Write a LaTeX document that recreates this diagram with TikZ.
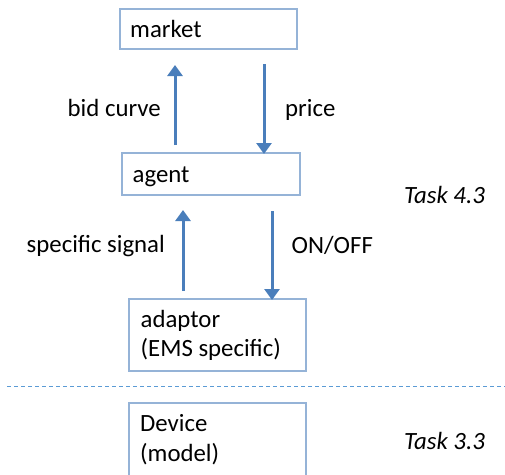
\documentclass[tikz,border=0pt]{standalone}
\usepackage{fontspec}
\setmainfont{Carlito}
\usetikzlibrary{arrows.meta}
\definecolor{boxline}{HTML}{95B3D7}
\definecolor{arrowblue}{HTML}{4A7EBB}
\definecolor{sepline}{HTML}{5B9BD5}
\begin{document}
\begin{tikzpicture}[x=1pt,y=-1pt,
  every node/.style={font=\fontsize{24.8}{29}\selectfont, inner sep=0pt},
  lbl/.style={anchor=base west},
  taskl/.style={anchor=base west, font=\fontsize{24.8}{29}\selectfont\itshape},
  blockbox/.style={draw=boxline, line width=1.3pt},
  flow/.style={draw=arrowblue, line width=3pt, -{Triangle[width=15pt,length=11pt]}, shorten >=-1pt}]
\useasboundingbox (0,0) rectangle (505,474);
\begin{scope}
\clip (0,0) rectangle (505,474);
% boxes
\draw[blockbox] (120,9) rectangle (297,49);
\draw[blockbox] (122,153) rectangle (300,195);
\draw[blockbox] (129,299) rectangle (306,371);
\draw[blockbox] (129,403) rectangle (306,490);
% separator between the two task levels
\draw[sepline, line width=0.9pt, dash pattern=on 4pt off 3pt] (7,386) -- (505,386);
\end{scope}
% box labels
\node[lbl] (market) at (130,37) {market};
\node[lbl] (agent) at (132.5,182) {agent};
\node[lbl] (adaptor) at (140.5,327) {adaptor};
\node[lbl] (ems) at (140.5,356) {(EMS specific)};
\node[lbl] (device) at (140,431) {Device};
\node[lbl] (model) at (140,461) {(model)};
% anchor points of the arrows
\coordinate (a1s) at (175,145); \coordinate (a1e) at (175,66);
\coordinate (a2s) at (264,64);  \coordinate (a2e) at (264,153);
\coordinate (a3s) at (183,291); \coordinate (a3e) at (183,211);
\coordinate (a4s) at (272,211); \coordinate (a4e) at (272,299);
\draw[flow] (a1s) -- (a1e);
\draw[flow] (a2s) -- (a2e);
\draw[flow] (a3s) -- (a3e);
\draw[flow] (a4s) -- (a4e);
% arrow labels
\node[lbl] (bid) at (67.5,116) {bid curve};
\node[lbl] (price) at (285,116) {price};
\node[lbl] (signal) at (26.5,252) {specific signal};
\node[lbl] (onoff) at (291.5,253) {ON/OFF};
% task labels
\node[taskl] (t43) at (404,203) {Task 4.3};
\node[taskl] (t33) at (404,449) {Task 3.3};
\end{tikzpicture}
\end{document}
